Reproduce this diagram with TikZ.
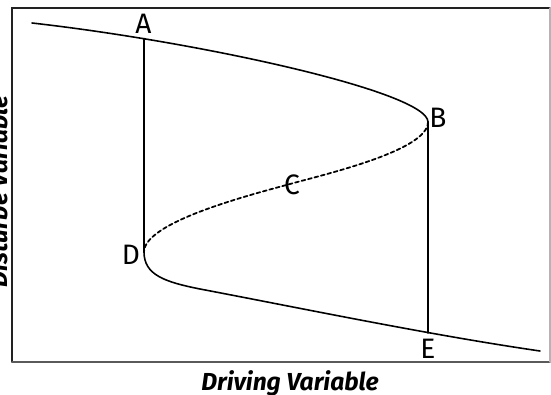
\documentclass[tikz,border=0pt]{standalone}
\usepackage{fontspec}
\setmainfont{Fira Sans}
\definecolor{cframe}{HTML}{222222}
\definecolor{cgrayb}{HTML}{5a5a5a}
\definecolor{cgrayr}{HTML}{b4b4b4}

\begin{document}
\begin{tikzpicture}[x=0.02cm, y=-0.02cm, line cap=round,
  curve/.style={line width=0.9pt},
  drop/.style={line width=1.1pt},
  unstable/.style={line width=1pt, dash pattern=on 2.2pt off 1.6pt},
  pt/.style={font=\fontsize{16}{16}\selectfont, inner sep=0pt},
  axis/.style={font=\fontsize{14}{14}\selectfont\bfseries\itshape, inner sep=0pt}]
  \useasboundingbox (0,0) rectangle (551,395);
  % frame
  \draw[cframe, line width=0.7pt] (12,362) -- (12,8) -- (550,8);
  \draw[cgrayb, line width=1pt] (12,362) -- (550,362);
  \draw[cgrayr, line width=0.7pt] (550,8) -- (550,362);
  % fold points
  \coordinate (A) at (144,38.5);
  \coordinate (B) at (428,122);
  \coordinate (C) at (290,184);
  \coordinate (D) at (144,252);
  \coordinate (E) at (428,333);
  % upper stable branch
  \draw[curve] (32,23) .. controls (200,42) and (428,92) .. (B);
  % unstable branch
  \draw[unstable] (B) .. controls (428,150) and (330,173) .. (C)
    .. controls (250,195) and (144,222) .. (D);
  % lower stable branch
  \draw[curve] (D) .. controls (144,275) and (165,282) .. (200,289)
    .. controls (300,308) and (430,335) .. (540,351);
  % jumps
  \draw[drop] (A) -- (D);
  \draw[drop] (B) -- (E);
  % labels
  \node[pt] (labA) at (143.5,24) {A};
  \node[pt] (labB) at (438,118) {B};
  \node[pt] (labC) at (292,185) {C};
  \node[pt] (labD) at (131,255) {D};
  \node[pt] (labE) at (428,349) {E};
  \node[axis, anchor=base] (xlab) at (290,390) {Driving Variable};
  \node[axis, rotate=90, anchor=base] (ylab) at (8,191) {Disturbe Variable};
\end{tikzpicture}
\end{document}
